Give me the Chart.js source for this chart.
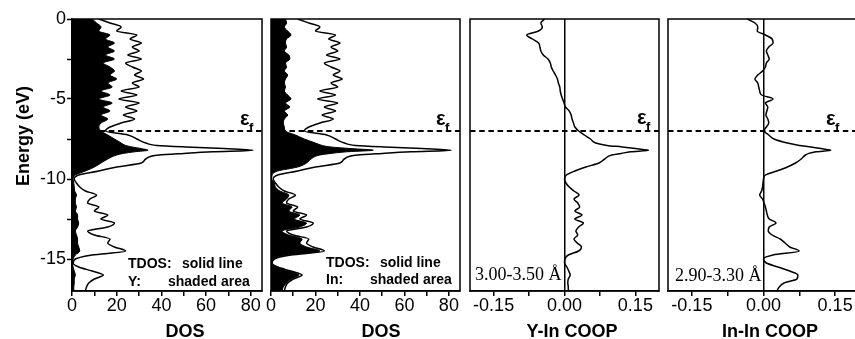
<!DOCTYPE html>
<html><head><meta charset="utf-8">
<script src="https://cdn.jsdelivr.net/npm/chart.js@4.4.1/dist/chart.umd.min.js"></script>
<style>
html,body{margin:0;padding:0;background:#fff;}
#wrap{position:relative;width:855px;height:339px;overflow:hidden;background:#fff;}
#wrap canvas{position:absolute;left:0;top:0;}
.t{position:absolute;white-space:pre;font-family:'Liberation Sans',Arial,sans-serif;color:#000;line-height:1;}
.b{font-weight:bold;}
.ttl{font-size:18px;font-weight:bold;transform:translateX(-50%);}
.lg{font-size:14px;font-weight:bold;}
.sr{font-family:'Liberation Serif','Times New Roman',serif;font-size:18px;}
.eps{font-size:20px;font-weight:bold;}
.sub{font-size:13px;font-weight:bold;}
</style></head><body>
<div id="wrap">
<canvas id="c1" width="870" height="339"></canvas>
<canvas id="c2" width="870" height="339"></canvas>
<canvas id="c3" width="870" height="339"></canvas>
<canvas id="c4" width="870" height="339"></canvas>

<div class="t b" style="font-size:18px;left:23px;top:136px;transform:translate(-50%,-50%) rotate(-90deg);">Energy (eV)</div>
<div class="t ttl" style="left:185px;top:322px;">DOS</div>
<div class="t ttl" style="left:381px;top:322px;">DOS</div>
<div class="t ttl" style="left:572px;top:322px;">Y-In COOP</div>
<div class="t ttl" style="left:770px;top:322px;">In-In COOP</div>

<div class="t lg" style="left:128px;top:256px;">TDOS:</div>
<div class="t lg" style="left:182px;top:256px;">solid line</div>
<div class="t lg" style="left:128px;top:274px;">Y:</div>
<div class="t lg" style="left:168px;top:274px;">shaded area</div>
<div class="t lg" style="left:326px;top:255px;">TDOS:</div>
<div class="t lg" style="left:380px;top:255px;">solid line</div>
<div class="t lg" style="left:326px;top:272px;">In:</div>
<div class="t lg" style="left:370px;top:272px;">shaded area</div>

<div class="t sr" style="left:475px;top:265px;">3.00-3.50 Å</div>
<div class="t sr" style="left:675px;top:266px;">2.90-3.30 Å</div>

<div class="t eps" style="left:240px;top:108px;">ε</div><div class="t sub" style="left:249px;top:121px;">f</div>
<div class="t eps" style="left:436px;top:108px;">ε</div><div class="t sub" style="left:445px;top:121px;">f</div>
<div class="t eps" style="left:637px;top:107px;">ε</div><div class="t sub" style="left:646px;top:120px;">f</div>
<div class="t eps" style="left:826px;top:108px;">ε</div><div class="t sub" style="left:835px;top:121px;">f</div>
</div>
<script>
// ---- data (energy in eV) ----
const energy = [0,-0.25,-0.5,-0.75,-1,-1.25,-1.5,-1.75,-2,-2.25,-2.5,-2.75,-3,-3.25,-3.5,-3.75,-4,-4.25,-4.5,-4.75,-5,-5.25,-5.5,-5.75,-6,-6.25,-6.5,-6.75,-7,-7.25,-7.5,-7.75,
  -7.9,-8,-8.1,-8.2,-8.3,-8.4,-8.5,
  -8.75,-9,-9.25,-9.5,-9.75,-10,-10.25,-10.5,-10.75,-11,-11.25,-11.5,-11.75,-12,-12.25,-12.5,-12.75,-13,-13.25,-13.5,-13.75,-14,-14.25,-14.5,-14.75,-15,-15.25,-15.5,-15.75,-16,-16.25,-16.5,-16.75,-17];
const tdos = [12,17,22,20,29,26,31,27,30,25,31,24,27,31,28,32,27,30,22,29,21,30,24,29,23,28,22,17,15,25,29,33,
  38,51,68,81,63,50,39,
  33,31,20,12,3,1,2,3.5,6,11,8,7,12,10,16,13,19,16,7,10,17,16,19,24,9,1.5,0.5,3,9,14,10,7.5,6.5,6];
const yPdos = [9,11,13,12,17,15,19,16,19,15,19,14,17,19,17,20,16,18,13,17,12,18,14,17,13,16,13,12,13,16,19,22,
  24,27,31,34,28,23,20,
  16,13,10,6,1.5,0.5,0.8,1,1.2,2,1.5,1.5,2,1.5,2.5,2.5,3,2.5,1.5,2,2.5,2.5,3,3.5,1.5,0.5,0.2,0.5,1,1.5,1,1,0.8,0.8];
const inPdos = [6.5,7,6,7.5,9,7,6.5,7,6,8,8.5,6.5,7,6,7.5,6.5,6,6.5,6,7.5,9,6.5,8.5,6,7.5,6,5.5,6,6.5,11,15,20,
  23,27,36,46,34,27,22,
  18,16,12,3,0.5,0.3,1.5,2,4,8,7,5,9.5,8,13,10.5,16,13,5,8,14,13,16,22,7,1,0.2,2.5,8,12.5,9,7,5.5,5];
const yInCoop = [-0.042,-0.05,-0.047,-0.055,-0.08,-0.068,-0.055,-0.052,-0.05,-0.045,-0.035,-0.03,-0.028,-0.024,-0.019,-0.015,-0.013,-0.01,-0.009,-0.007,-0.004,-0.001,0.002,0.01,0.014,0.016,0.019,0.022,0.03,0.042,0.055,0.066,
  0.09,0.122,0.15,0.178,0.14,0.12,0.1,
  0.085,0.073,0.045,0.022,0.004,0,0.003,0.01,0.02,0.031,0.02,0.028,0.032,0.022,0.037,0.022,0.04,0.03,0.024,0.028,0.02,0.027,0.036,0.03,0.008,0.001,0,0.005,0.009,0.012,0.008,0.007,0.008,0.008];
const inInCoop = [-0.034,-0.018,-0.012,-0.013,0.004,0.018,0.02,0.011,0.006,0.009,0.012,0.006,0.004,-0.002,-0.012,-0.018,-0.012,-0.01,-0.008,-0.004,0.02,0.004,0.009,0.007,0.005,0.009,0.011,0.006,0.001,0.011,0.022,0.05,
  0.075,0.1,0.12,0.141,0.11,0.095,0.088,
  0.079,0.067,0.05,0.028,0.004,0,-0.001,-0.002,-0.004,-0.008,-0.002,0.001,0.004,0.006,0.008,0.012,0.026,0.012,0.01,0.018,0.035,0.045,0.055,0.075,0.02,0,0.006,0.03,0.055,0.072,0.07,0.043,0.033,0.028];
const fermiEnergy = -7;
const energyTicks = [0,-5,-10,-15];
const dosTicks = [0,20,40,60,80];
const coopTicks = [-0.15,0,0.15];
const energyRange = [-17, 0];
const dosRange = [0, 85];
const coopRange = [-0.2, 0.2];

// ---- helpers ----
function pts(vals){ return vals.map((v,i)=>({x:v, y:energy[i]})); }
function withMinor(majors){
  const s=[...majors].sort((a,b)=>a-b), out=[];
  s.forEach((v,i)=>{ out.push({value:v, lbl:true}); if(i<s.length-1) out.push({value:(v+s[i+1])/2, lbl:false}); });
  return out;
}
Chart.defaults.font.family = "'Liberation Sans', Arial, sans-serif";
Chart.defaults.font.size = 18;
Chart.defaults.color = '#000';

const framePlugin = {
  id:'frame',
  beforeDatasetsDraw(chart){
    const {ctx, chartArea:a, scales} = chart;
    const yp = scales.y.getPixelForValue(fermiEnergy);
    ctx.save();
    ctx.beginPath(); ctx.rect(a.left,a.top,a.right-a.left,a.bottom-a.top); ctx.clip();
    ctx.strokeStyle='#000'; ctx.lineWidth=2; ctx.setLineDash([5.5,3.7]);
    ctx.beginPath(); ctx.moveTo(a.left, yp); ctx.lineTo(a.right, yp); ctx.stroke();
    ctx.restore();
  },
  afterDatasetsDraw(chart){
    const {ctx, chartArea:a} = chart;
    ctx.save(); ctx.strokeStyle='#000'; ctx.lineWidth=1.5;
    ctx.strokeRect(a.left, a.top, a.right-a.left, a.bottom-a.top);
    ctx.restore();
  }
};

function xScale(range, majors, fmt, zeroLine){
  return {
    type:'linear', min:range[0], max:range[1],
    afterBuildTicks: s => { s.ticks = withMinor(majors); },
    afterFit: s => { s.height = 48; },
    ticks:{ autoSkip:false, maxRotation:0, padding:-1, color:'#000', font:{size:18},
      callback:(v,i,t)=> t[i] && t[i].lbl ? fmt(v) : '' },
    grid:{ drawOnChartArea: !!zeroLine, drawTicks:true, tickLength:5, tickWidth:1.5, tickColor:'#000',
      color: c => (zeroLine && c.tick && Math.abs(c.tick.value)<1e-9) ? '#000' : 'rgba(0,0,0,0)',
      lineWidth:1.5 },
    border:{ display:true, color:'#000', width:1.5 }
  };
}
function yScale(showTicks, width){
  return {
    type:'linear', min:energyRange[0], max:energyRange[1], display: showTicks,
    afterBuildTicks: s => { s.ticks = withMinor(energyTicks); },
    afterFit: s => { s.width = width; },
    ticks:{ autoSkip:false, padding:1, color:'#000', font:{size:18},
      callback:(v,i,t)=> t[i] && t[i].lbl ? String(v) : '' },
    grid:{ drawOnChartArea:false, drawTicks:true, tickLength:5, tickWidth:1.5, tickColor:'#000' },
    border:{ display:true, color:'#000', width:1.5 }
  };
}
const lineDs = vals => ({ data:pts(vals), fill:false, borderColor:'#000', borderWidth:1.5, pointRadius:0, cubicInterpolationMode:'monotone' });
const fillDs = vals => ({ data:pts(vals), fill:'origin', backgroundColor:'#000', borderColor:'#000', borderWidth:1, pointRadius:0, cubicInterpolationMode:'monotone' });

function make(id, datasets, x, y, padding){
  return new Chart(document.getElementById(id), {
    type:'line',
    data:{ datasets },
    options:{
      indexAxis:'y', responsive:false, animation:false, devicePixelRatio:1,
      layout:{ padding },
      plugins:{ legend:{display:false}, tooltip:{enabled:false} },
      elements:{ point:{ radius:0 } },
      scales:{ x, y }
    },
    plugins:[framePlugin]
  });
}
const dosFmt = v => String(v);
const coopFmt = v => v.toFixed(2);

make('c1', [lineDs(tdos), fillDs(yPdos)], xScale(dosRange, dosTicks, dosFmt, false), yScale(true, 72), {left:0, right:870-262, top:19, bottom:0});
make('c2', [lineDs(tdos), fillDs(inPdos)], xScale(dosRange, dosTicks, dosFmt, false), yScale(false, 0), {left:271, right:870-460, top:19, bottom:0});
make('c3', [lineDs(yInCoop)], xScale(coopRange, coopTicks, coopFmt, true), yScale(false, 0), {left:470, right:870-659, top:19, bottom:0});
make('c4', [lineDs(inInCoop)], xScale(coopRange, coopTicks, coopFmt, true), yScale(false, 0), {left:668, right:870-859, top:19, bottom:0});
</script>
</body></html>
